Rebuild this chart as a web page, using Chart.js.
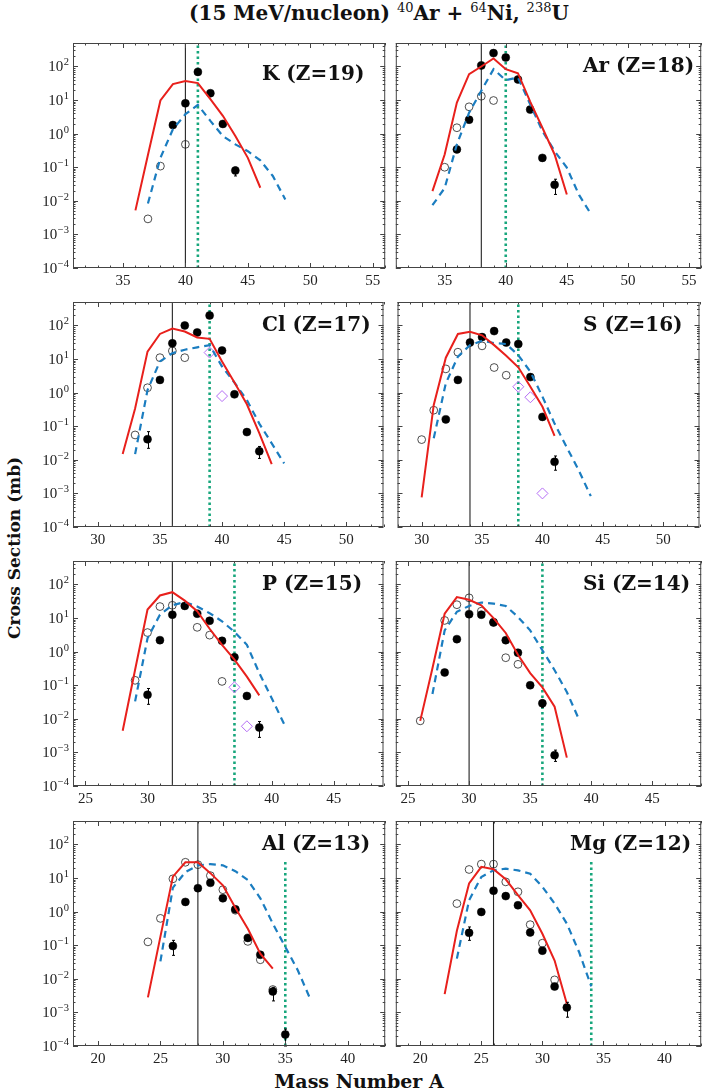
<!DOCTYPE html>
<html><head><meta charset="utf-8">
<script src="https://cdn.jsdelivr.net/npm/chart.js@4.4.1/dist/chart.umd.min.js"></script>
<style>
html,body{margin:0;padding:0;background:#fff;}
body{width:706px;height:1090px;overflow:hidden;position:relative;}
canvas{position:absolute;}
.lbl{position:absolute;font-family:'DejaVu Serif',serif;font-weight:bold;font-size:20px;line-height:24px;white-space:nowrap;color:#111;}
#title{position:absolute;left:0;width:758px;top:0;text-align:center;font-family:'DejaVu Serif',serif;font-weight:bold;font-size:20px;line-height:26px;white-space:nowrap;color:#111;}
#title .s{font-size:13px;font-weight:normal;position:relative;top:-8px;}
#ytitle{position:absolute;left:14px;top:548px;transform:translate(-50%,-50%) rotate(-90deg);white-space:nowrap;font-family:'DejaVu Serif',serif;font-weight:bold;font-size:17px;color:#111;}
#xtitle{position:absolute;left:359px;top:1081px;transform:translate(-50%,-50%);white-space:nowrap;font-family:'DejaVu Serif',serif;font-weight:bold;font-size:19px;color:#111;}
</style></head><body>
<div id="title">(15 MeV/nucleon) <span class="s">40</span>Ar + <span class="s">64</span>Ni, <span class="s">238</span>U</div>
<div id="ytitle">Cross Section (mb)</div>
<div id="xtitle">Mass Number A</div>
<script>
// ---------- data: [A, cross section (mb)] ----------
const K_filled = [[39,1.8],[40,8.0],[41,69],[42,16],[43,1.95],[44,0.08]];
const K_open = [[37,0.0029],[38,0.108],[40,0.48]];
const K_diam = [];
const K_red = [[36,0.0052],[37,0.23],[38,9.7],[39,30],[40,37],[41,32],[42,10.6],[43,3.4],[44,0.85],[45,0.19],[46,0.0245]];
const K_blue = [[37,0.0083],[38,0.19],[39,1.35],[40,3.8],[41,7.2],[42,2.4],[43,0.85],[44,0.48],[45,0.30],[46,0.16],[47,0.055],[48,0.011]];
const K_err = [[44,0.055,0.1]];

const Ar_filled = [[36,0.34],[37,2.6],[38,107],[39,250],[40,185],[41,41],[42,5.2],[43,0.19],[44,0.030]];
const Ar_open = [[35,0.10],[36,1.5],[37,6.3],[38,13],[39,9.7]];
const Ar_diam = [];
const Ar_red = [[34,0.0195],[35,0.24],[36,8.4],[37,59],[38,100],[39,173],[40,83],[41,63],[42,9],[43,1.5],[44,0.24],[45,0.0155]];
const Ar_blue = [[34,0.0074],[35,0.024],[36,0.48],[37,4.2],[38,19],[39,83],[40,39],[41,47],[42,7.5],[43,1.2],[44,0.30],[45,0.097],[46,0.015],[47,0.0039]];
const Ar_err = [[44,0.0155,0.044]];

const Cl_filled = [[34,0.041],[35,2.4],[36,29.5],[37,100],[38,62],[39,199],[40,18],[41,0.89],[42,0.067],[43,0.018]];
const Cl_open = [[33,0.055],[34,1.4],[35,11],[36,17.5],[37,11]];
const Cl_diam = [[39,15.6],[40,0.79]];
const Cl_red = [[32,0.0148],[33,0.34],[34,16.7],[35,56],[36,81],[37,66],[38,44],[39,40],[40,8.5],[41,2.0],[42,0.45],[43,0.062],[44,0.0074]];
const Cl_blue = [[33,0.0148],[34,1.2],[35,8.5],[36,15],[37,19],[38,22.4],[39,26],[40,6.0],[41,2.0],[42,0.6],[43,0.12],[44,0.031],[45,0.0078]];
const Cl_err = [[34,0.022,0.069],[43,0.011,0.025]];

const S_filled = [[32,0.16],[33,2.4],[34,31],[35,45],[36,68],[37,31],[38,28],[39,2.9],[40,0.19],[41,0.0087]];
const S_open = [[30,0.040],[31,0.30],[32,5.1],[33,16],[35,24.7],[36,5.6],[37,3.3]];
const S_diam = [[38,1.5],[39,0.73],[40,0.001]];
const S_red = [[30,0.00076],[31,0.43],[32,11],[33,56],[34,65],[35,51],[36,26],[37,12.6],[38,5.7],[39,1.5],[40,0.38],[41,0.052]];
const S_blue = [[31,0.044],[32,1.9],[33,11.8],[34,26],[35,35],[36,30],[37,28],[38,13],[39,4.2],[40,0.76],[41,0.12],[42,0.024],[43,0.0049],[44,0.00083]];
const S_err = [[41,0.0049,0.013]];

const P_filled = [[30,0.052],[31,2.2],[32,12.6],[33,23],[34,13.5],[35,8.3],[36,2.1],[37,0.68],[38,0.048],[39,0.0055]];
const P_open = [[29,0.14],[30,3.7],[31,22],[32,24],[34,5.3],[35,3.1],[36,0.13]];
const P_diam = [[37,0.087],[38,0.006]];
const P_red = [[28,0.0044],[29,0.29],[30,18],[31,47],[32,59],[33,33],[34,16],[35,4.8],[36,1.6],[37,0.58],[38,0.18],[39,0.050]];
const P_blue = [[29,0.033],[30,2.5],[31,12.6],[32,24],[33,30],[34,22],[35,14],[36,8],[37,3.9],[38,1.6],[39,0.23],[40,0.041],[41,0.007]];
const P_err = [[30,0.027,0.08],[39,0.0028,0.0083]];

const Si_filled = [[28,0.24],[29,2.36],[30,13],[31,12.6],[32,7.4],[33,2.2],[34,0.93],[35,0.10],[36,0.029],[37,0.00083]];
const Si_open = [[26,0.0087],[28,8.5],[29,25],[30,40],[31,16],[32,7.6],[33,0.66],[34,0.42]];
const Si_diam = [];
const Si_red = [[26,0.0087],[27,0.32],[28,13.5],[29,42],[30,35],[31,24],[32,10],[33,3.6],[34,0.81],[35,0.23],[36,0.086],[37,0.023],[38,0.0007]];
const Si_blue = [[27,0.055],[28,4.3],[29,15.4],[30,23],[31,29],[32,27],[33,23],[34,10.8],[35,4.3],[36,1.1],[37,0.28],[38,0.063],[39,0.0095]];
const Si_err = [[36,0.022,0.036],[37,0.00054,0.00117]];

const Al_filled = [[26,0.095],[27,1.95],[28,5.0],[29,7.2],[30,2.5],[31,1.17],[32,0.165],[33,0.052],[34,0.0042],[35,0.00022]];
const Al_open = [[24,0.126],[25,0.63],[26,9.5],[27,29.5],[28,25],[29,11.8],[30,4.5],[31,1.1],[32,0.13],[33,0.037],[34,0.0048]];
const Al_diam = [];
const Al_red = [[24,0.0028],[25,0.18],[26,11],[27,29.5],[28,29.5],[29,14],[30,6.1],[31,1.3],[32,0.31],[33,0.056],[34,0.020]];
const Al_blue = [[25,0.033],[26,5.2],[27,15],[28,24],[29,26],[30,24],[31,16],[32,8.7],[33,2.5],[34,0.44],[35,0.089],[36,0.018],[37,0.0025]];
const Al_err = [[26,0.05,0.14],[34,0.0022,0.0056],[35,0.0001,0.00032]];

const Mg_filled = [[24,0.234],[25,0.98],[26,4.2],[27,2.9],[28,1.55],[29,0.24],[30,0.069],[31,0.0059],[32,0.0014]];
const Mg_open = [[23,1.74],[24,18],[25,26],[26,26],[27,7.7],[28,3.9],[29,0.41],[30,0.115],[31,0.0093]];
const Mg_diam = [];
const Mg_red = [[22,0.0035],[23,0.27],[24,6.9],[25,21.6],[26,18.3],[27,9.2],[28,3.1],[29,1.1],[30,0.22],[31,0.035],[32,0.0018]];
const Mg_blue = [[23,0.040],[24,2.2],[25,10.8],[26,17],[27,19],[28,17],[29,13.5],[30,5.5],[31,1.74],[32,0.44],[33,0.063],[34,0.006]];
const Mg_err = [[24,0.14,0.35],[32,0.00072,0.002]];

const panelNames = ['K (Z=19)','Ar (Z=18)','Cl (Z=17)','S (Z=16)','P (Z=15)','Si (Z=14)','Al (Z=13)','Mg (Z=12)'];
const refA = [40,38,36,34,32,30,28,26];          // thin black vertical line
const greenA = [41,40,39,38,37,36,35,34];        // green dotted vertical line
const greenTop = [500,500,500,500,500,500,34,34];// upper end of green line (mb)
const xRanges = [[31,56],[28,53],[24,49],[18,43]];
const xTickRows = [[35,40,45,50,55],[30,35,40,45,50],[25,30,35,40,45],[20,25,30,35,40]];
const yMin = 1e-4, yMax = 500;
const yTickExps = [-4,-3,-2,-1,0,1,2];

const series = [
  [K_filled,K_open,K_diam,K_red,K_blue,K_err],
  [Ar_filled,Ar_open,Ar_diam,Ar_red,Ar_blue,Ar_err],
  [Cl_filled,Cl_open,Cl_diam,Cl_red,Cl_blue,Cl_err],
  [S_filled,S_open,S_diam,S_red,S_blue,S_err],
  [P_filled,P_open,P_diam,P_red,P_blue,P_err],
  [Si_filled,Si_open,Si_diam,Si_red,Si_blue,Si_err],
  [Al_filled,Al_open,Al_diam,Al_red,Al_blue,Al_err],
  [Mg_filled,Mg_open,Mg_diam,Mg_red,Mg_blue,Mg_err]
];

// ---------- layout (styles) ----------
const panelTop = [43,302,561,821];
const panelH = 225;
const labelX = [262,583,262,583,262,583,262,570];
const labelDY = [30,22,22,22,22,22,22,22];

Chart.defaults.animation = false;
const toXY = arr => arr.map(p => ({x:p[0], y:p[1]}));

const framePlugin = {
  id: 'frame',
  afterDatasetsDraw(chart, args, opts) {
    const ctx = chart.ctx, a = chart.chartArea, x = chart.scales.x, y = chart.scales.y;
    ctx.save();
    // error bars
    ctx.strokeStyle = '#000'; ctx.lineWidth = 1;
    (opts.errors || []).forEach(e => {
      const px = Math.round(x.getPixelForValue(e[0])) + 0.5;
      const y1 = Math.min(a.bottom, y.getPixelForValue(e[1]));
      const y2 = y.getPixelForValue(e[2]);
      ctx.beginPath();
      ctx.moveTo(px, y1); ctx.lineTo(px, y2);
      ctx.moveTo(px-1.5, y1); ctx.lineTo(px+1.5, y1);
      ctx.moveTo(px-1.5, y2); ctx.lineTo(px+1.5, y2);
      ctx.stroke();
    });
    // frame
    ctx.strokeStyle = '#444'; ctx.lineWidth = 1;
    ctx.strokeRect(a.left+0.5, a.top+0.5, a.right-a.left-1, a.bottom-a.top-1);
    ctx.beginPath();
    for (let v = Math.ceil(x.min); v <= x.max; v++) {
      const px = Math.round(x.getPixelForValue(v)) + 0.5;
      const L = v % 5 === 0 ? 5 : 2.5;
      ctx.moveTo(px, a.bottom); ctx.lineTo(px, a.bottom - L);
      ctx.moveTo(px, a.top); ctx.lineTo(px, a.top + L);
    }
    for (let e = -4; e <= 2; e++) {
      for (let k = 1; k <= 9; k++) {
        const v = k * Math.pow(10, e);
        if (v > y.max) break;
        const py = Math.round(y.getPixelForValue(v)) + 0.5;
        const L = k === 1 ? 5 : 2.5;
        ctx.moveTo(a.left, py); ctx.lineTo(a.left + L, py);
        ctx.moveTo(a.right, py); ctx.lineTo(a.right - L, py);
      }
    }
    ctx.stroke();
    // y tick labels (left column only)
    if (opts.yLabels) {
      ctx.fillStyle = '#222';
      ctx.textBaseline = 'alphabetic';
      yTickExps.forEach(e => {
        const py = y.getPixelForValue(Math.pow(10, e));
        const ex = e < 0 ? '\u2212' + (-e) : String(e);
        ctx.font = '10.5px "Liberation Serif", serif';
        const we = ctx.measureText(ex).width;
        const xr = a.left - 4;
        ctx.textAlign = 'right';
        ctx.fillText(ex, xr, py - 1);
        ctx.font = '15px "Liberation Serif", serif';
        ctx.fillText('10', xr - we - 0.5, py + 5);
      });
    }
    ctx.restore();
  }
};

for (let i = 0; i < 8; i++) {
  const col = i % 2, row = Math.floor(i / 2);
  const [filled, open, diam, red, blue, err] = series[i];
  const cv = document.createElement('canvas');
  const cLeft = col === 0 ? 0 : 391;
  const cW = col === 0 ? 390 : 315;
  const cTop = panelTop[row] - 8;
  const cH = 8 + panelH + 30;
  cv.width = cW; cv.height = cH;
  cv.style.left = cLeft + 'px'; cv.style.top = cTop + 'px';
  cv.style.width = cW + 'px'; cv.style.height = cH + 'px';
  document.body.appendChild(cv);

  const lbl = document.createElement('div');
  lbl.className = 'lbl';
  lbl.textContent = panelNames[i];
  lbl.style.left = labelX[i] + 'px';
  lbl.style.top = (panelTop[row] + labelDY[i] - 12) + 'px';
  document.body.appendChild(lbl);

  const xt = xTickRows[row];
  new Chart(cv, {
    type: 'scatter',
    data: {
      datasets: [
        {data: toXY(red), showLine: true, borderColor: '#e8201c', borderWidth: 2, pointRadius: 0, order: 0},
        {data: toXY(blue), showLine: true, borderColor: '#1b7dc0', borderWidth: 2.2, borderDash: [7,5], pointRadius: 0, order: 1},
        {data: toXY(diam), pointStyle: 'rectRot', pointRadius: 5.5, pointBackgroundColor: 'rgba(0,0,0,0)', pointBorderColor: '#b46cf5', pointBorderWidth: 1, order: 2},
        {data: toXY(filled), pointRadius: 4, pointBackgroundColor: '#000', pointBorderColor: '#000', pointBorderWidth: 0.5, order: 3},
        {data: toXY(open), pointRadius: 3.9, pointBackgroundColor: 'rgba(0,0,0,0)', pointBorderColor: '#222', pointBorderWidth: 0.8, order: 4},
        {data: [{x: greenA[i], y: yMin}, {x: greenA[i], y: greenTop[i]}], showLine: true, borderColor: '#17a67c', borderWidth: 2.6, borderDash: [2.5,3], pointRadius: 0, order: 6},
        {data: [{x: refA[i], y: yMin}, {x: refA[i], y: yMax}], showLine: true, borderColor: '#222', borderWidth: 1.1, pointRadius: 0, order: 7}
      ]
    },
    options: {
      responsive: false,
      devicePixelRatio: 1,
      animation: false,
      events: [],
      layout: {padding: {left: col === 0 ? 73 : 4, right: col === 0 ? 3 : 0, top: 8, bottom: 0}},
      plugins: {legend: {display: false}, tooltip: {enabled: false}, frame: {yLabels: col === 0, errors: err}},
      scales: {
        x: {
          type: 'linear', min: xRanges[row][0], max: xRanges[row][1],
          afterBuildTicks: s => { s.ticks = xt.map(v => ({value: v})); },
          afterFit: s => { s.height = 30; },
          grid: {display: false, drawTicks: false},
          border: {display: false},
          ticks: {font: {family: '"Liberation Serif", serif', size: 15}, color: '#222', padding: 4, maxRotation: 0, autoSkip: false}
        },
        y: {type: 'logarithmic', min: yMin, max: yMax, display: false}
      }
    },
    plugins: [framePlugin]
  });
}
</script>
</body></html>
